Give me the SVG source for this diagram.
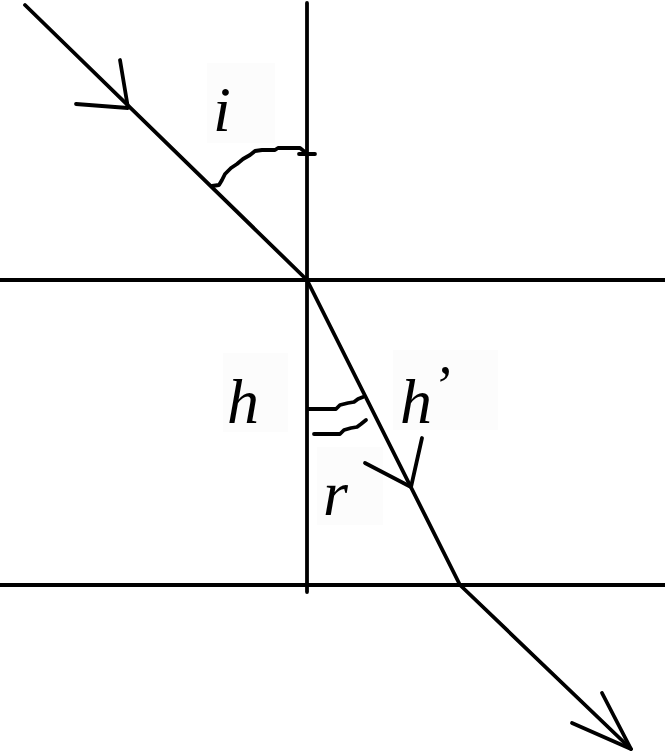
<svg xmlns="http://www.w3.org/2000/svg" width="665" height="752" viewBox="0 0 665 752">
<style>
.ln{stroke:#000;stroke-width:3.8;fill:none;stroke-linecap:round;stroke-linejoin:round}
.lb{font-family:"Liberation Serif","Times New Roman",serif;font-style:italic;font-size:64px;fill:#000}
.bx{fill:#fcfcfc}
</style>
<rect width="665" height="752" fill="#fff"/>
<g id="labels-bg">
<rect class="bx" x="207" y="63" width="68" height="80"/>
<rect class="bx" x="223" y="353" width="65" height="79"/>
<rect class="bx" x="393" y="350" width="105" height="80"/>
<rect class="bx" x="317" y="447" width="66" height="78"/>
</g>
<g id="interfaces">
<line class="ln" x1="0" y1="280" x2="665" y2="280"/>
<line class="ln" x1="0" y1="585" x2="665" y2="585"/>
<line class="ln" x1="307" y1="3" x2="307" y2="592"/>
</g>
<g id="connectors">
<line class="ln" x1="25" y1="5" x2="307" y2="280"/>
<polyline class="ln" points="120,60 128,108 76,104"/>
<line class="ln" x1="307" y1="280" x2="460" y2="585"/>
<polyline class="ln" points="422,438 411,487 365,463"/>
<line class="ln" x1="460" y1="585" x2="631" y2="749"/>
<polyline class="ln" points="602,693 631,749 572,723"/>
</g>
<g id="angle-i">
<polyline class="ln" points="212,186 219,185 222,180 225,174 231,168 237,164 243,159 250,155 255,151 262,150 275,150 278,148 300,148 305,152"/>
<line class="ln" x1="299" y1="154" x2="315" y2="154"/>
</g>
<g id="angle-r">
<polyline class="ln" points="308,409 336,409 340,405 348,403 354,402 358,399 363,397"/>
<polyline class="ln" points="314,434 340,434 344,430 351,428 357,427 361,424 366,420"/>
</g>
<g id="label-i"><text class="lb" x="213" y="131">i</text></g>
<g id="label-h"><text class="lb" x="227" y="423">h</text></g>
<g id="label-h2"><text class="lb" x="400" y="423">h<tspan font-size="56" dy="-18">’</tspan></text></g>
<g id="label-r"><text class="lb" x="323" y="515">r</text></g>
</svg>
